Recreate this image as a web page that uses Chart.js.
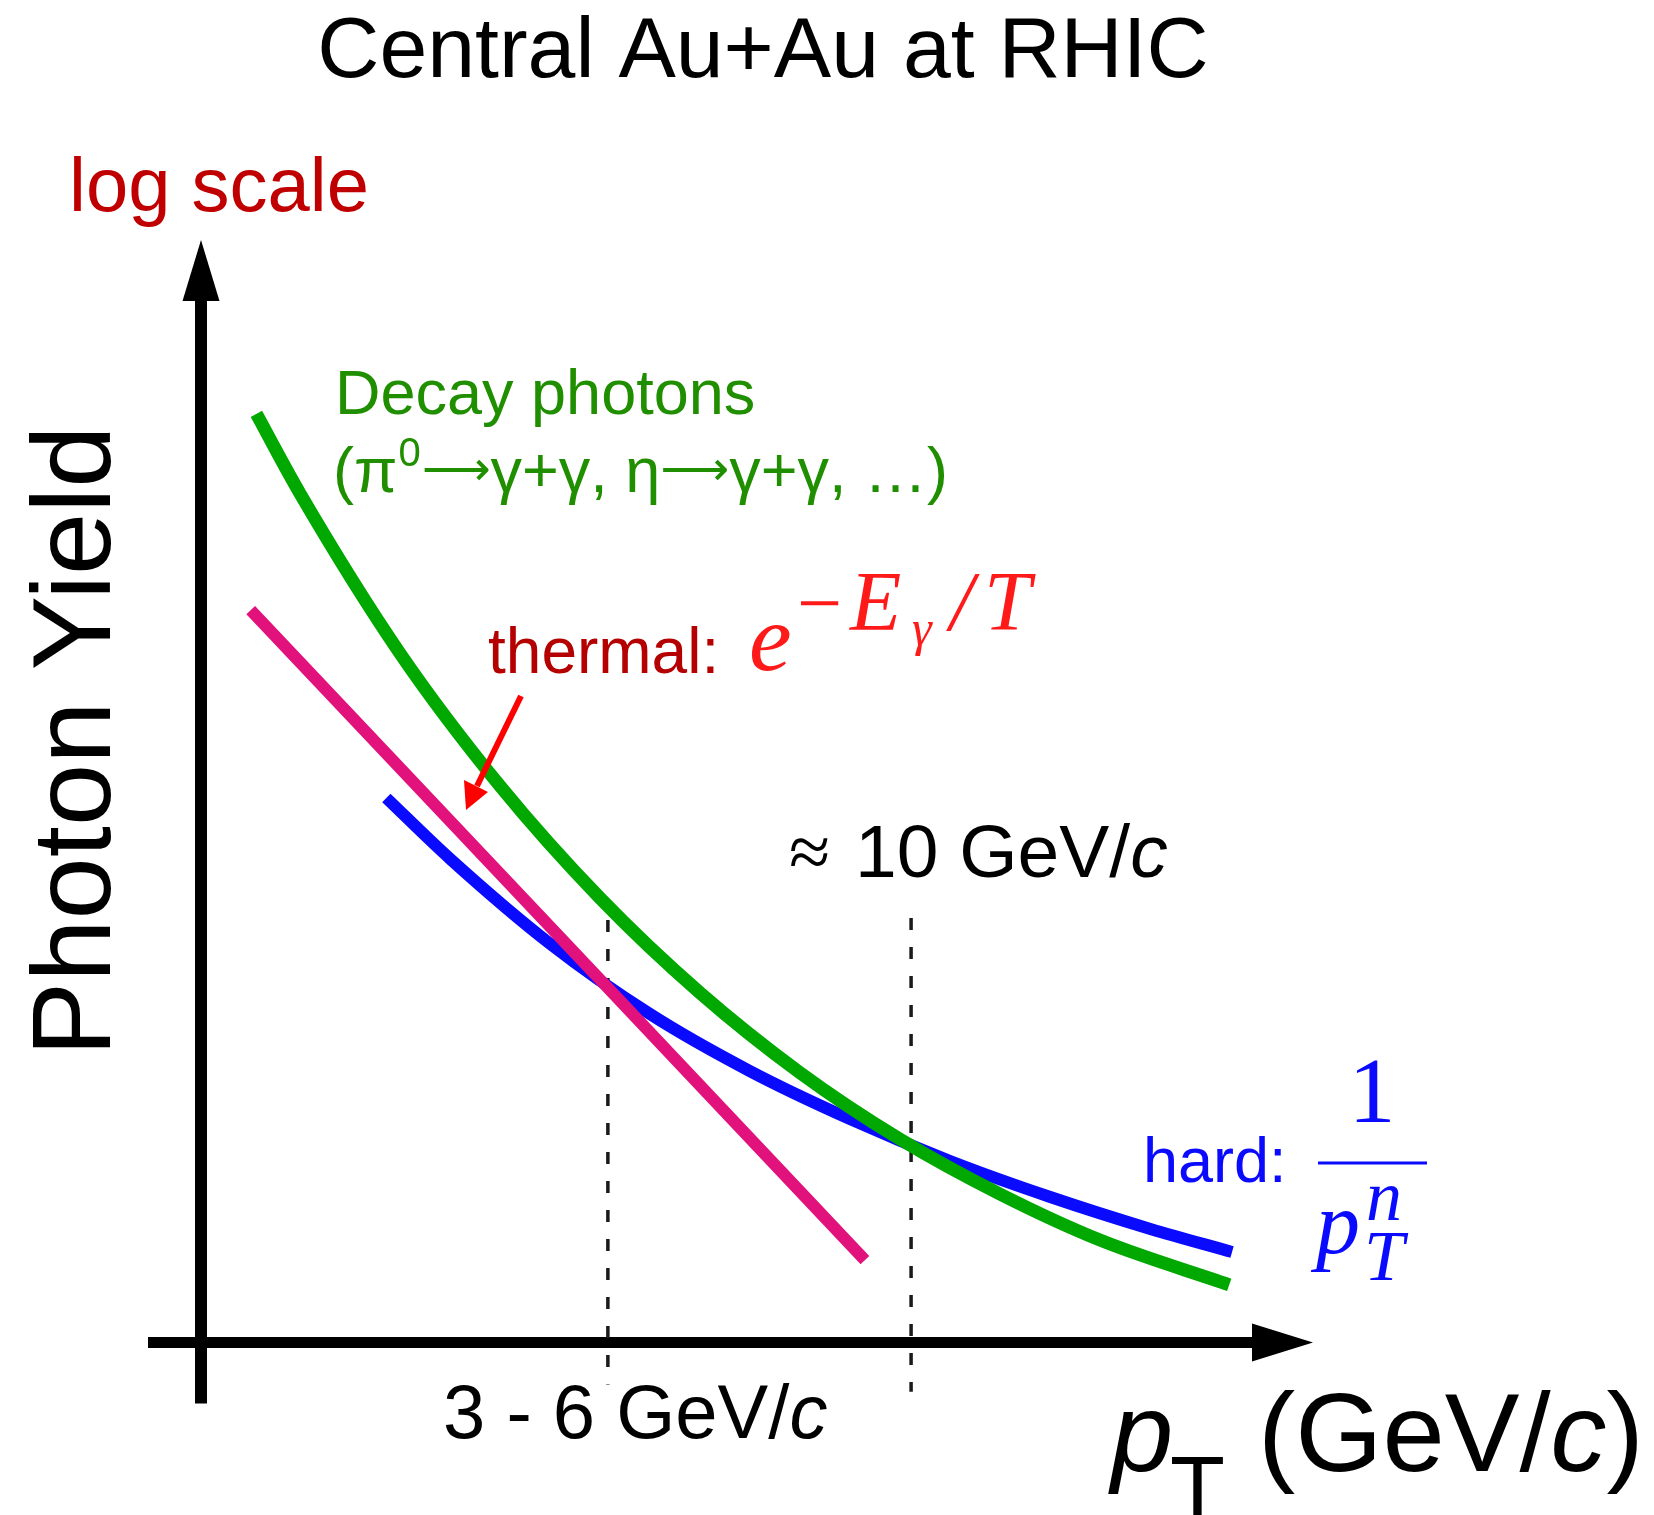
<!DOCTYPE html>
<html>
<head>
<meta charset="utf-8">
<title>Photon Yield</title>
<script src="https://cdn.jsdelivr.net/npm/chart.js"></script>
<style>
  body { margin: 0; background: #fff; }
  canvas { display: block; }
</style>
</head>
<body>
<canvas id="grafica" width="1654" height="1515"></canvas>
<script>
// valores (pT en GeV/c, yield en escala log, unidades arbitrarias)
const decayPt    = [0.78, 1.39, 2.80, 4.21, 5.62, 7.03, 8.44, 9.84, 11.25, 12.66, 14.48];
const decayYield = [113000, 42000, 5650, 1069, 262, 79.8, 29.3, 12.8, 6.43, 3.61, 2.06];

const thermalPt    = [0.70, 5.73, 9.35];
const thermalYield = [9690, 85, 2.81];

const hardPt    = [2.61, 3.51, 4.92, 6.32, 7.73, 9.14, 10.55, 11.96, 13.37, 14.52];
const hardYield = [919, 428, 147.5, 61.4, 30.0, 16.45, 9.72, 6.19, 4.15, 3.11];

// lineas punteadas: 3-6 GeV/c y ~10 GeV/c
const markPt   = [5.73, 10];
const markLow  = [0.59, 0.54];
const markHigh = [199, 204];

const xMax = 15.66;
const yMin = 1;
const yMax = 1e6;

function puntos(xs, ys) {
    return xs.map((x, i) => ({ x: x, y: ys[i] }));
}

let datasets = [
    { data: puntos(decayPt, decayYield), borderColor: '#00a800', borderWidth: 13,
      cubicInterpolationMode: 'monotone' },
    { data: puntos(thermalPt, thermalYield), borderColor: '#e2127d', borderWidth: 12 },
    { data: puntos(hardPt, hardYield), borderColor: '#0a0aff', borderWidth: 12,
      cubicInterpolationMode: 'monotone' }
];
markPt.forEach((p, i) => {
    // de arriba hacia abajo para que el primer trazo empiece arriba
    datasets.push({
        data: [{ x: p, y: markHigh[i] }, { x: p, y: markLow[i] }],
        borderColor: '#1a1a1a', borderWidth: 3.5, borderDash: [12, 17]
    });
});
datasets.forEach(d => {
    d.showLine = true;
    d.pointRadius = 0;
    d.fill = false;
    d.clip = false;
    d.borderCapStyle = 'butt';
});

function texto(ctx, s, x, y, font, color, align) {
    ctx.font = font;
    ctx.fillStyle = color;
    ctx.textAlign = align || 'left';
    ctx.textBaseline = 'alphabetic';
    ctx.fillText(s, x, y);
    return ctx.measureText(s).width;
}

// ejes con flechas + textos
const ejes = {
    id: 'ejes',
    beforeDatasetsDraw(chart) {
        const ctx = chart.ctx;
        const xs = chart.scales.x, ys = chart.scales.y;
        const x0 = xs.getPixelForValue(0), y0 = ys.getPixelForValue(yMin);
        const xEnd = xs.getPixelForValue(xMax), yEnd = ys.getPixelForValue(yMax);
        ctx.save();
        ctx.fillStyle = '#000';
        // eje y
        ctx.fillRect(x0 - 6, yEnd + 60, 12, (y0 + 61) - (yEnd + 60));
        ctx.beginPath();
        ctx.moveTo(x0, yEnd);
        ctx.lineTo(x0 - 18.5, yEnd + 61);
        ctx.lineTo(x0 + 18.5, yEnd + 61);
        ctx.closePath();
        ctx.fill();
        // eje x
        ctx.fillRect(x0 - 53, y0 - 5.5, (xEnd - 60) - (x0 - 53), 11);
        ctx.beginPath();
        ctx.moveTo(xEnd, y0);
        ctx.lineTo(xEnd - 61, y0 - 19);
        ctx.lineTo(xEnd - 61, y0 + 19);
        ctx.closePath();
        ctx.fill();
        ctx.restore();
    },
    afterDraw(chart) {
        const ctx = chart.ctx;
        const sans = '"Liberation Sans", Arial, sans-serif';
        const serif = '"Liberation Serif", "Times New Roman", serif';
        ctx.save();
        texto(ctx, 'Central Au+Au at RHIC', 763, 77, '86px ' + sans, '#000', 'center');
        texto(ctx, 'log scale', 69, 211, '76px ' + sans, '#c00000');

        // Photon Yield vertical
        ctx.save();
        ctx.translate(110, 741);
        ctx.rotate(-Math.PI / 2);
        texto(ctx, 'Photon Yield', 0, 0, '112px ' + sans, '#000', 'center');
        ctx.restore();

        // decay photons
        const verde = '#1f8f00';
        texto(ctx, 'Decay photons', 335, 414, '63px ' + sans, verde);
        const arr = '48px "DejaVu Sans", sans-serif';
        let x = 333;
        x += texto(ctx, '(π', x, 492, '63px ' + sans, verde);
        x += texto(ctx, '0', x + 1, 466, '40px ' + sans, verde) + 2;
        x += texto(ctx, '⟶', x, 485, arr, verde);
        x += texto(ctx, 'γ+γ, η', x, 492, '63px ' + sans, verde);
        x += texto(ctx, '⟶', x, 485, arr, verde);
        texto(ctx, 'γ+γ, …)', x, 492, '63px ' + sans, verde);

        // thermal
        texto(ctx, 'thermal:', 488, 673, '64px ' + sans, '#b40000');
        const rojo = '#ff1a1a';
        texto(ctx, 'e', 749, 670, 'italic 96px ' + serif, rojo);
        texto(ctx, '−', 797, 630, '80px ' + serif, rojo);
        texto(ctx, 'E', 850, 630, 'italic 84px ' + serif, rojo);
        texto(ctx, 'γ', 912, 645, 'italic 50px ' + serif, rojo);
        texto(ctx, '/', 950, 630, 'italic 84px ' + serif, rojo);
        texto(ctx, 'T', 984, 630, 'italic 84px ' + serif, rojo);

        // flecha roja
        ctx.strokeStyle = '#ff0000';
        ctx.fillStyle = '#ff0000';
        ctx.lineWidth = 6;
        ctx.beginPath();
        ctx.moveTo(521, 696);
        ctx.lineTo(477, 786);
        ctx.stroke();
        ctx.beginPath();
        ctx.moveTo(466, 810);
        ctx.lineTo(464, 780);
        ctx.lineTo(488, 792);
        ctx.closePath();
        ctx.fill();

        // etiquetas pT
        texto(ctx, '≈', 789, 877, '75px ' + serif, '#000');
        let w = texto(ctx, '10 GeV/', 855, 877, '75px ' + sans, '#000');
        texto(ctx, 'c', 855 + w, 877, 'italic 75px ' + sans, '#000');

        w = texto(ctx, '3 - 6 GeV/', 443, 1438, '76px ' + sans, '#000');
        texto(ctx, 'c', 443 + w, 1438, 'italic 76px ' + sans, '#000');

        // hard
        const azul = '#0a0aff';
        texto(ctx, 'hard:', 1143, 1182, '63px ' + sans, azul);
        texto(ctx, '1', 1372, 1122, '94px ' + serif, azul, 'center');
        ctx.fillStyle = azul;
        ctx.fillRect(1318, 1161.5, 109, 3);
        texto(ctx, 'p', 1316, 1253, 'italic 88px ' + serif, azul);
        texto(ctx, 'n', 1366, 1220, 'italic 72px ' + serif, azul);
        texto(ctx, 'T', 1364, 1280, 'italic 72px ' + serif, azul);

        // titulo eje x
        texto(ctx, 'p', 1111, 1471, 'italic 112px ' + sans, '#000');
        texto(ctx, 'T', 1170, 1520, '90px ' + sans, '#000');
        w = texto(ctx, '(GeV/', 1258, 1471, '112px ' + sans, '#000');
        let w2 = texto(ctx, 'c', 1258 + w, 1471, 'italic 112px ' + sans, '#000');
        texto(ctx, ')', 1258 + w + w2, 1471, '112px ' + sans, '#000');
        ctx.restore();
    }
};

const ctx = document.getElementById('grafica').getContext('2d');
new Chart(ctx, {
    type: 'scatter',
    data: { datasets: datasets },
    options: {
        responsive: false,
        animation: false,
        layout: { padding: { left: 201, right: 341, top: 240, bottom: 172.5 } },
        plugins: {
            legend: { display: false },
            tooltip: { enabled: false }
        },
        scales: {
            x: { type: 'linear', min: 0, max: xMax, display: false },
            y: { type: 'logarithmic', min: yMin, max: yMax, display: false }
        }
    },
    plugins: [ejes]
});
</script>
</body>
</html>
